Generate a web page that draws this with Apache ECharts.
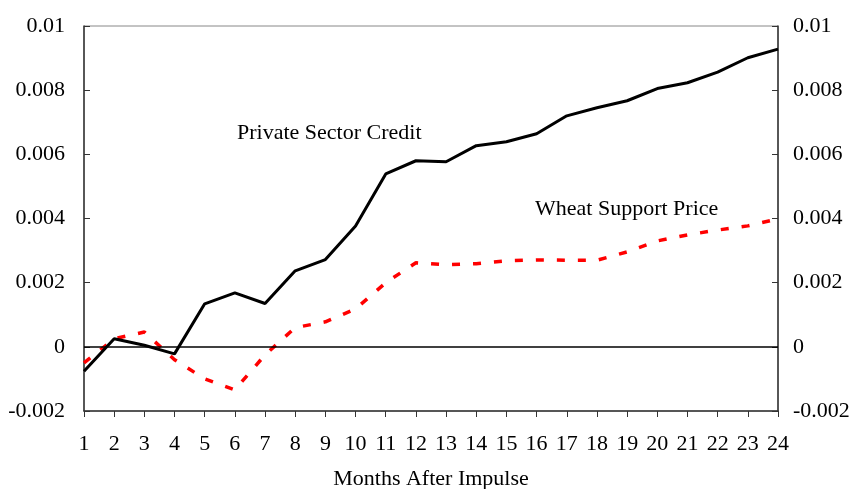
<!DOCTYPE html>
<html>
<head>
<meta charset="utf-8">
<script src="https://cdn.jsdelivr.net/npm/echarts@6/dist/echarts.min.js"></script>
<style>html,body{margin:0;padding:0;background:#fff}#c{width:853px;height:489px}</style>
</head>
<body>
<div id="c"></div>
<script>
var months = ['1','2','3','4','5','6','7','8','9','10','11','12','13','14','15','16','17','18','19','20','21','22','23','24'];
var privateSectorCredit = [-0.00076, 0.00025, 0.00005, -0.00022, 0.00134, 0.00168, 0.00135, 0.00237, 0.00272, 0.00377, 0.00539, 0.0058, 0.00577, 0.00627, 0.00639, 0.00664, 0.0072, 0.00745, 0.00767, 0.00805, 0.00823, 0.00856, 0.00901, 0.00928];
var wheatSupportPrice = [-0.0005, 0.00025, 0.00046, -0.0004, -0.001, -0.00134, -0.00025, 0.0006, 0.00078, 0.00118, 0.002, 0.00262, 0.00256, 0.00259, 0.00268, 0.00271, 0.0027, 0.0027, 0.00296, 0.0033, 0.00349, 0.00364, 0.00377, 0.00399];
var yTicks = {min: -0.002, max: 0.01, interval: 0.002};
var labelText = {credit: 'Private Sector Credit', wheat: 'Wheat Support Price'};
var xName = 'Months After Impulse';

var font = 'Liberation Serif';
var fs = 22;
function fmt(v){ return String(Math.round(v*1000)/1000); }
var chart = echarts.init(document.getElementById('c'), null, {renderer:'canvas'});
var yCommon = {
  type: 'value', min: yTicks.min, max: yTicks.max, interval: yTicks.interval,
  axisLine: {show: true, lineStyle: {color: '#333', width: 1.5}},
  axisTick: {show: true, inside: true, length: 6, lineStyle: {color: '#333', width: 1}},
  splitLine: {show: false},
  axisLabel: {formatter: fmt, fontFamily: font, fontSize: fs, color: '#000'}
};
chart.setOption({
  animation: false,
  grid: {left: 84, right: 75, top: 26, bottom: 78, show: true, borderColor: '#888', borderWidth: 1,
    containLabel: false, outerBoundsMode: 'none'},
  xAxis: {
    type: 'category', data: months, boundaryGap: false,
    axisLine: {show: true, onZero: false, lineStyle: {color: '#333', width: 1.5}},
    axisTick: {show: true, inside: false, length: 6, alignWithLabel: true, lineStyle: {color: '#333', width: 1}},
    axisLabel: {fontFamily: font, fontSize: fs, color: '#000', margin: 22, interval: 0},
    name: xName, nameLocation: 'middle', nameGap: 57,
    nameTextStyle: {fontFamily: font, fontSize: fs, color: '#000'}
  },
  yAxis: [
    Object.assign({}, yCommon, {position: 'left', axisLabel: Object.assign({}, yCommon.axisLabel, {margin: 19})}),
    Object.assign({}, yCommon, {position: 'right', axisLabel: Object.assign({}, yCommon.axisLabel, {margin: 15})})
  ],
  series: [
    {
      type: 'line', name: labelText.credit, data: privateSectorCredit, showSymbol: false,
      lineStyle: {color: '#000', width: 3}, z: 3,
      markLine: {silent: true, symbol: 'none', label: {show: false},
        lineStyle: {color: '#000', width: 1.5, type: 'solid'}, data: [{yAxis: 0}]}
    },
    {
      type: 'line', name: labelText.wheat, data: wheatSupportPrice, showSymbol: false,
      lineStyle: {color: '#ff0000', width: 3.5, type: [8, 13], cap: 'butt'}, z: 2
    }
  ],
  graphic: [
    {type: 'text', left: 237, top: 122, style: {text: labelText.credit, font: fs + 'px "Liberation Serif"', fill: '#000'}},
    {type: 'text', left: 535, top: 198, style: {text: labelText.wheat, font: fs + 'px "Liberation Serif"', fill: '#000'}}
  ]
});
</script>
</body>
</html>
